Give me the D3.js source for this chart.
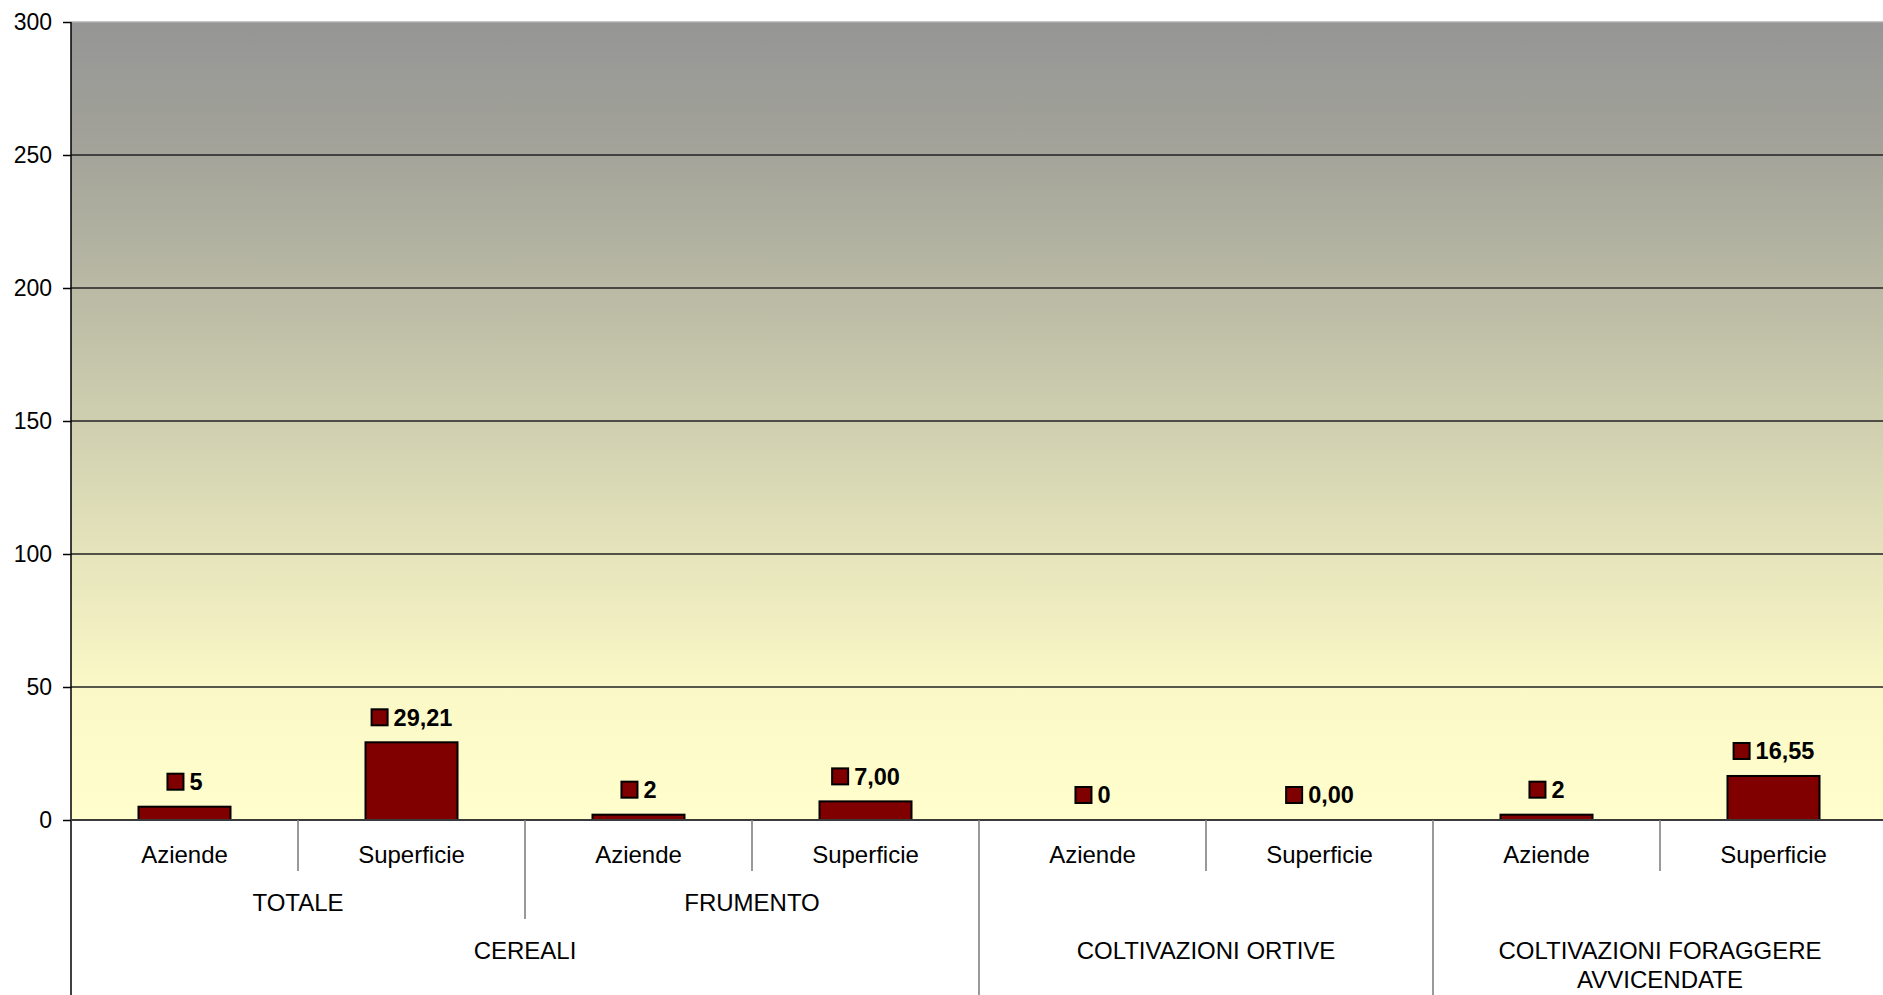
<!DOCTYPE html>
<html><head><meta charset="utf-8">
<script src="https://cdn.jsdelivr.net/npm/d3@7/dist/d3.min.js"></script>
<style>
html,body{margin:0;padding:0;background:#fff;overflow:hidden;}
svg{display:block;font-family:"Liberation Sans",Arial,sans-serif;}
</style></head>
<body>
<svg id="chart" width="1883" height="995"></svg>
<script>
// ---- data ----
const categories = ["Aziende","Superficie","Aziende","Superficie","Aziende","Superficie","Aziende","Superficie"];
const subGroups = ["TOTALE","FRUMENTO","",""];               // each spans 2 categories
const mainGroups = [                                         // label lines, number of categories spanned
  {lines:["CEREALI"], span:4},
  {lines:["COLTIVAZIONI ORTIVE"], span:2},
  {lines:["COLTIVAZIONI FORAGGERE","AVVICENDATE"], span:2}
];
const values = [5, 29.21, 2, 7.00, 0, 0.00, 2, 16.55];
const valueLabels = ["5","29,21","2","7,00","0","0,00","2","16,55"];
const yTicks = [0,50,100,150,200,250,300];

(function(){
// ---- layout ----
const svg = d3.select("#chart");
const pL = 71, pR = 1887, pT = 22, pB = 820, H = 995;
const idx = d3.range(categories.length);
const x = d3.scaleBand().domain(idx).range([pL,pR]).paddingInner(0).paddingOuter(0);
const y = d3.scaleLinear().domain([0,300]).range([pB,pT]);
const bw = x.bandwidth();

const defs = svg.append("defs");
const grad = defs.append("linearGradient").attr("id","bg").attr("x1",0).attr("y1",0).attr("x2",0).attr("y2",1);
[[0,"#959595"],[0.17,"#a4a49a"],[0.5,"#cfcfb0"],[0.83,"#faf8c6"],[1,"#fffecc"]].forEach(s=>{
  grad.append("stop").attr("offset",s[0]).attr("stop-color",s[1]);
});
svg.append("rect").attr("x",pL).attr("y",pT).attr("width",pR-pL).attr("height",pB-pT).attr("fill","url(#bg)");

// gridlines
svg.append("g").selectAll("line").data(yTicks.filter(t=>t>0)).join("line")
  .attr("x1",pL).attr("x2",pR)
  .attr("y1",d=>y(d)).attr("y2",d=>y(d))
  .attr("stroke",d=>d===300?"#b0b0b0":"#222").attr("stroke-width",1.4);

// y axis
const yAxis = d3.axisLeft(y).tickValues(yTicks).tickSize(8).tickPadding(11).tickFormat(d3.format("d"));
const ga = svg.append("g").attr("transform",`translate(${pL},0)`).call(yAxis);
ga.select(".domain").remove();
ga.selectAll(".tick line").attr("stroke","#000").attr("stroke-width",1.5);
ga.selectAll(".tick text").attr("font-size",23).attr("fill","#000").style("font-family","'Liberation Sans',Arial,sans-serif");
svg.append("line").attr("x1",pL).attr("x2",pL).attr("y1",pT).attr("y2",H).attr("stroke","#000").attr("stroke-width",1.5);

// bars
const barW = 92;
svg.append("g").selectAll("rect").data(idx).join("rect")
  .attr("x",i=>x(i)+(bw-barW)/2).attr("width",barW)
  .attr("y",i=>y(values[i])).attr("height",i=>y(0)-y(values[i]))
  .attr("fill","#800000").attr("stroke","#000").attr("stroke-width",2)
  .attr("display",i=>values[i]>0?null:"none");

// zero axis
svg.append("line").attr("x1",pL).attr("x2",pR).attr("y1",y(0)).attr("y2",y(0)).attr("stroke","#3a3a3a").attr("stroke-width",2);

// value labels
const lg = svg.append("g");
idx.forEach(i=>{
  const g = lg.append("g");
  const t = g.append("text").text(valueLabels[i]).attr("font-size",23.5).attr("font-weight","bold").attr("fill","#000")
    .attr("x",23).attr("y",0).attr("dy","0.36em");
  const tw = t.node().getComputedTextLength();
  g.append("rect").attr("x",1).attr("y",-8).attr("width",16).attr("height",16).attr("fill","#800000").attr("stroke","#000").attr("stroke-width",2);
  const total = 23 + tw;
  const cx = x(i)+bw/2;
  g.attr("transform",`translate(${cx-total/2},${y(values[i])-25})`);
});

// category axis
const sepColor = "#808080";
const cat = svg.append("g").attr("font-size",24).attr("fill","#000").attr("text-anchor","middle");
idx.forEach(i=>{
  cat.append("text").attr("x",x(i)+bw/2).attr("y",855).attr("dy","0.35em").text(categories[i]);
});
idx.slice(1).forEach(i=>{
  let y2 = 871;
  if(i%2===0) y2 = 919;
  if(i===4 || i===6) y2 = H;
  svg.append("line").attr("x1",x(i)).attr("x2",x(i)).attr("y1",pB).attr("y2",y2).attr("stroke",sepColor).attr("stroke-width",1.6);
});
subGroups.forEach((s,k)=>{
  if(!s) return;
  cat.append("text").attr("x",x(2*k)+bw).attr("y",903).attr("dy","0.35em").text(s);
});
let start = 0;
mainGroups.forEach(gp=>{
  const cx = x(start) + gp.span*bw/2;
  gp.lines.forEach((ln,j)=>{
    cat.append("text").attr("x",cx).attr("y",951+j*29).attr("dy","0.35em").text(ln);
  });
  start += gp.span;
});
})();
</script>
</body></html>
